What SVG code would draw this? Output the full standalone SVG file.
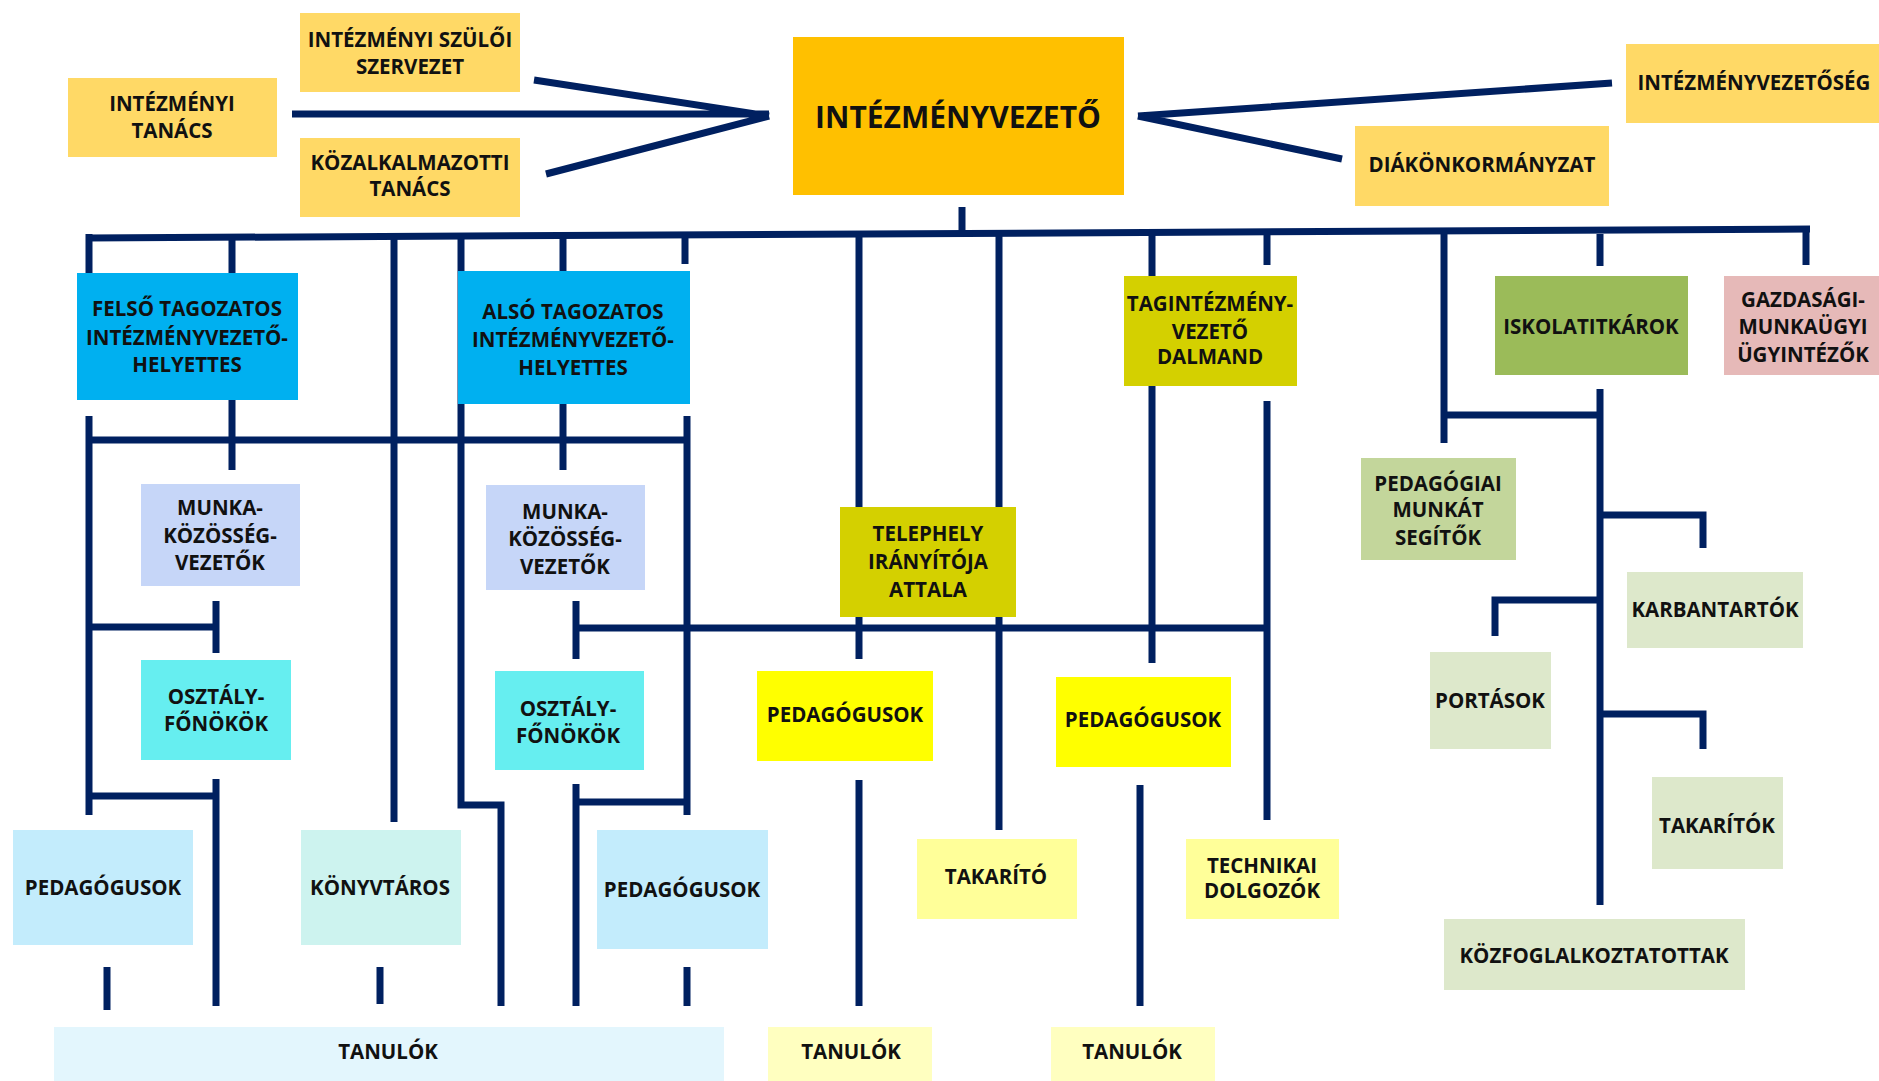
<svg xmlns="http://www.w3.org/2000/svg" width="1879" height="1081" viewBox="0 0 1879 1081">
<style>
.c{fill:none;stroke:#002060;stroke-width:7;stroke-linecap:butt;stroke-linejoin:miter}
text{font-family:"Open Sans","Noto Sans","Liberation Sans",sans-serif;font-weight:700;font-size:20.5px;fill:#111;text-anchor:middle}
.big{font-size:30px}
.gold{fill:#FFD966}
.org{fill:#FFC000}
.blue{fill:#00B0F0}
.peri{fill:#C6D6F8}
.cyan{fill:#66EEF0}
.lblue{fill:#C3ECFC}
.aqua{fill:#CDF3EF}
.pale{fill:#E3F6FD}
.olive{fill:#D4D000}
.yel{fill:#FFFF00}
.lyel{fill:#FFFF99}
.pyel{fill:#FFFFC0}
.grn{fill:#9BBB59}
.mgrn{fill:#C3D69B}
.lgrn{fill:#DDE8CB}
.pink{fill:#E6B9B8}
</style>
<rect width="1879" height="1081" fill="#fff"/>
<g id="connectors">
<path class="c" d="M292,114 H769 M534,80 L769,116 M546,174 L769,116"/>
<path class="c" d="M1612,83 L1138,116 M1342,159 L1138,116"/>
<path class="c" d="M87,238 L1810,229"/>
<path class="c" d="M962,207 V234"/>
<path class="c" d="M89,234 V273 M232,234 V273 M394,234 V822 M461,234 V805 H501 V1006 M563,234 V271 M685,234 V264 M859,234 V507 M999,234 V507 M1152,234 V276 M1267,234 V265 M1444,234 V443 M1600,234 V266 M1806,232 V265"/>
<path class="c" d="M86,440 H690 M89,416 V815 M232,400 V470 M563,404 V470 M687,416 V815"/>
<path class="c" d="M89,627 H219 M216,601 V653 M89,796 H219 M216,779 V1006"/>
<path class="c" d="M107,967 V1010 M380,967 V1004 M687,967 V1006"/>
<path class="c" d="M576,628 H1270 M576,601 V659 M576,784 V1006 M576,802 H687"/>
<path class="c" d="M859,617 V659 M999,617 V830 M859,780 V1006"/>
<path class="c" d="M1152,386 V663 M1267,401 V820 M1140,785 V1006"/>
<path class="c" d="M1444,415 H1600 M1600,389 V905 M1600,515 H1703 V548 M1495,636 V600 H1600 M1600,714 H1703 V749"/>
</g>
<g id="n-szuloi"><rect class="gold" x="300" y="13" width="220" height="79"/><text x="410" y="47">INTÉZMÉNYI SZÜLŐI</text><text x="410" y="74">SZERVEZET</text></g>
<g id="n-tanacs"><rect class="gold" x="68" y="78" width="209" height="79"/><text x="172" y="111">INTÉZMÉNYI</text><text x="172" y="138">TANÁCS</text></g>
<g id="n-kozalk"><rect class="gold" x="300" y="138" width="220" height="79"/><text x="410" y="170">KÖZALKALMAZOTTI</text><text x="410" y="196">TANÁCS</text></g>
<g id="n-vezeto"><rect class="org" x="793" y="37" width="331" height="158"/><text class="big" x="958" y="128">INTÉZMÉNYVEZETŐ</text></g>
<g id="n-vezetoseg"><rect class="gold" x="1626" y="44" width="253" height="79"/><text x="1754" y="90">INTÉZMÉNYVEZETŐSÉG</text></g>
<g id="n-diak"><rect class="gold" x="1355" y="126" width="254" height="80"/><text x="1482" y="172">DIÁKÖNKORMÁNYZAT</text></g>
<g id="n-felso"><rect class="blue" x="77" y="273" width="221" height="127"/><text x="187" y="316">FELSŐ TAGOZATOS</text><text x="187" y="345">INTÉZMÉNYVEZETŐ-</text><text x="187" y="372">HELYETTES</text></g>
<g id="n-also"><rect class="blue" x="458" y="271" width="232" height="133"/><text x="573" y="319">ALSÓ TAGOZATOS</text><text x="573" y="347">INTÉZMÉNYVEZETŐ-</text><text x="573" y="375">HELYETTES</text></g>
<g id="n-munka1"><rect class="peri" x="141" y="484" width="159" height="102"/><text x="220" y="515">MUNKA-</text><text x="220" y="543">KÖZÖSSÉG-</text><text x="220" y="570">VEZETŐK</text></g>
<g id="n-munka2"><rect class="peri" x="486" y="485" width="159" height="105"/><text x="565" y="519">MUNKA-</text><text x="565" y="546">KÖZÖSSÉG-</text><text x="565" y="574">VEZETŐK</text></g>
<g id="n-osztaly1"><rect class="cyan" x="141" y="660" width="150" height="100"/><text x="216" y="704">OSZTÁLY-</text><text x="216" y="731">FŐNÖKÖK</text></g>
<g id="n-osztaly2"><rect class="cyan" x="495" y="671" width="149" height="99"/><text x="568" y="716">OSZTÁLY-</text><text x="568" y="743">FŐNÖKÖK</text></g>
<g id="n-ped1"><rect class="lblue" x="13" y="830" width="180" height="115"/><text x="103" y="895">PEDAGÓGUSOK</text></g>
<g id="n-konyvtaros"><rect class="aqua" x="301" y="830" width="160" height="115"/><text x="380" y="895">KÖNYVTÁROS</text></g>
<g id="n-ped2"><rect class="lblue" x="597" y="830" width="171" height="119"/><text x="682" y="897">PEDAGÓGUSOK</text></g>
<g id="n-tanulok1"><rect class="pale" x="54" y="1027" width="670" height="54"/><text x="388" y="1059">TANULÓK</text></g>
<g id="n-telephely"><rect class="olive" x="840" y="507" width="176" height="110"/><text x="928" y="541">TELEPHELY</text><text x="928" y="569">IRÁNYÍTÓJA</text><text x="928" y="597">ATTALA</text></g>
<g id="n-ped3"><rect class="yel" x="757" y="671" width="176" height="90"/><text x="845" y="722">PEDAGÓGUSOK</text></g>
<g id="n-takarito"><rect class="lyel" x="917" y="839" width="160" height="80"/><text x="996" y="884">TAKARÍTÓ</text></g>
<g id="n-tanulok2"><rect class="pyel" x="768" y="1027" width="164" height="54"/><text x="851" y="1059">TANULÓK</text></g>
<g id="n-tagint"><rect class="olive" x="1124" y="276" width="173" height="110"/><text x="1210" y="311">TAGINTÉZMÉNY-</text><text x="1210" y="339">VEZETŐ</text><text x="1210" y="364">DALMAND</text></g>
<g id="n-ped4"><rect class="yel" x="1056" y="677" width="175" height="90"/><text x="1143" y="727">PEDAGÓGUSOK</text></g>
<g id="n-technikai"><rect class="lyel" x="1186" y="839" width="153" height="80"/><text x="1262" y="873">TECHNIKAI</text><text x="1262" y="898">DOLGOZÓK</text></g>
<g id="n-tanulok3"><rect class="pyel" x="1051" y="1027" width="164" height="54"/><text x="1132" y="1059">TANULÓK</text></g>
<g id="n-iskolatitkar"><rect class="grn" x="1495" y="276" width="193" height="99"/><text x="1591" y="334">ISKOLATITKÁROK</text></g>
<g id="n-gazdasagi"><rect class="pink" x="1724" y="276" width="155" height="99"/><text x="1803" y="307">GAZDASÁGI-</text><text x="1803" y="334">MUNKAÜGYI</text><text x="1803" y="362">ÜGYINTÉZŐK</text></g>
<g id="n-pedsegito"><rect class="mgrn" x="1361" y="458" width="155" height="102"/><text x="1438" y="491">PEDAGÓGIAI</text><text x="1438" y="517">MUNKÁT</text><text x="1438" y="545">SEGÍTŐK</text></g>
<g id="n-karbantarto"><rect class="lgrn" x="1627" y="572" width="176" height="76"/><text x="1715" y="617">KARBANTARTÓK</text></g>
<g id="n-portas"><rect class="lgrn" x="1430" y="652" width="121" height="97"/><text x="1490" y="708">PORTÁSOK</text></g>
<g id="n-takaritok"><rect class="lgrn" x="1652" y="777" width="131" height="92"/><text x="1717" y="833">TAKARÍTÓK</text></g>
<g id="n-kozfog"><rect class="lgrn" x="1444" y="919" width="301" height="71"/><text x="1594" y="963">KÖZFOGLALKOZTATOTTAK</text></g>
</svg>
